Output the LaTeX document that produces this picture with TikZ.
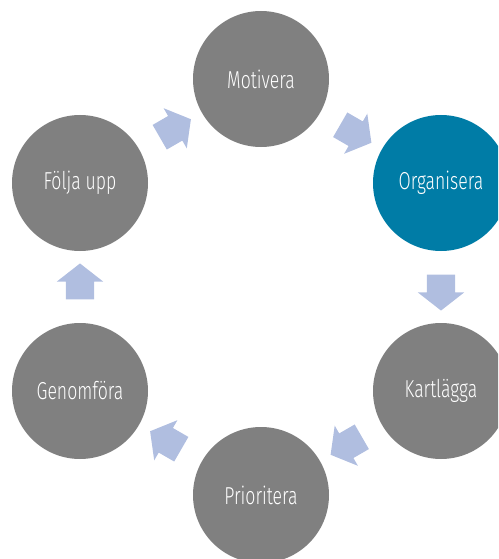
\documentclass[tikz,border=0pt]{standalone}
\usepackage{fontspec}
\setmainfont{Fira Sans Light}[FakeStretch=0.72]
\usetikzlibrary{shapes.arrows,calc}

\definecolor{stepgray}{HTML}{808080}
\definecolor{stepteal}{HTML}{007CA6}
\definecolor{arrowblue}{HTML}{B0BEE0}

\begin{document}
\begin{tikzpicture}[
    x=1pt, y=-1pt,
    font=\fontsize{24.5}{29}\selectfont,
    stage/.style={circle,fill=stepgray,text=white,minimum size=136pt,inner sep=0pt},
    current/.style={stage,fill=stepteal},
    flow/.style={single arrow,fill=arrowblue,inner sep=0pt,
        text height=28pt,text depth=0pt,text width=0pt,
        minimum height=36pt,minimum width=46pt,
        single arrow head extend=9pt,single arrow tip angle=104}
]
\useasboundingbox (0,0) rectangle (498,559);
\clip (0,0) rectangle (498,559);

% Steps
\node[stage] (mot) at (261,79) {Motivera};
\node[current] (org) at (441,183) {Organisera};
\node[stage] (kart) at (441,391) {Kartlägga};
\node[stage] (prio) at (261,495) {Prioritera};
\node[stage] (gen) at (80,391) {Genomföra};
\node[stage] (folj) at (80,183) {Följa upp};

% Arrows between steps
\node[flow,rotate=-30] (a1) at ($(mot)!0.5!(org)$) {};
\node[flow,rotate=-90] (a2) at ($(org)!0.5!(kart)$) {};
\node[flow,rotate=-150] (a3) at ($(kart)!0.5!(prio)$) {};
\node[flow,rotate=150] (a4) at ($(prio)!0.5!(gen)$) {};
\node[flow,rotate=90] (a5) at ($(gen)!0.5!(folj)$) {};
\node[flow,rotate=30] (a6) at ($(folj)!0.5!(mot)$) {};

\end{tikzpicture}
\end{document}
